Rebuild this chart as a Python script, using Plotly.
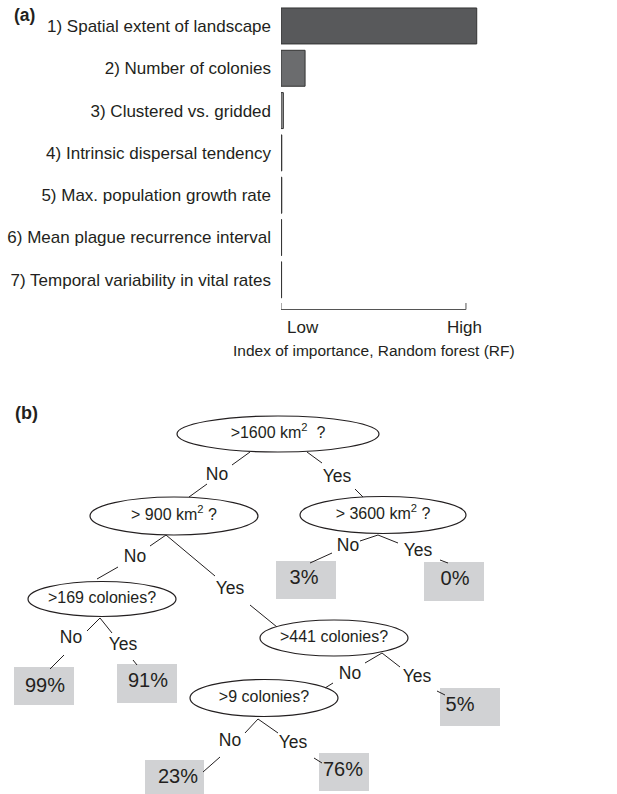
import plotly.graph_objects as go

# ---------------- data: panel (a) ----------------
factors = ["1) Spatial extent of landscape", "2) Number of colonies",
           "3) Clustered vs. gridded", "4) Intrinsic dispersal tendency",
           "5) Max. population growth rate", "6) Mean plague recurrence interval",
           "7) Temporal variability in vital rates"]
importance = [1.0, 0.123, 0.012, 0.004, 0.004, 0.003, 0.003]
bar_fill = ["#58595b", "#6b6c6e", "#9a9a9a", "#333333", "#333333", "#333333", "#333333"]
axis_labels = ["Low", "High"]
axis_title = "Index of importance, Random forest (RF)"

# ---------------- data: panel (b) ----------------
node_text = [">1600 km<sup>2</sup>  ?", "> 900 km<sup>2</sup> ?", "> 3600 km<sup>2</sup> ?",
             ">169 colonies?", ">441 colonies?", ">9 colonies?"]
leaf_values = [3, 0, 99, 91, 5, 23, 76]
edge_labels = ["No", "Yes", "No", "Yes", "No", "Yes", "No", "Yes", "No", "Yes", "No", "Yes"]

# layout positions (pixel space of the figure)
node_cx = [278, 174, 383, 102, 334, 264]
node_cy = [434, 516, 515, 599, 638, 698]
node_rx = [101, 84, 83, 74, 74, 74]
node_ry = [18, 19, 18.5, 17.5, 18, 18.5]

leaf_box = [(276, 336, 561, 599), (424, 484, 562, 601), (14, 74, 667, 705),
            (117, 177, 664, 703), (440, 500, 688, 726), (145, 204, 760, 795),
            (319, 369, 753, 791)]
leaf_tx = [304, 455, 45, 148, 460, 178, 343]
leaf_ty = [579, 580, 687, 682, 706, 778, 771]

# edges: start, end of first segment, label pos, start of second seg, end
edges = [
    ((250, 452), (232, 465), (217, 476), (207, 484), (189, 497)),
    ((307, 452), (322, 463), (337, 478), (355, 489), (363, 497)),
    ((166, 535), (150, 546), (135, 558), (118, 567), (97, 579)),
    ((166, 535), (215, 576), (230, 590), (250, 605), (277, 627)),
    ((378, 535), (360, 541), (348, 547), (332, 553), (310, 563)),
    ((378, 535), (398, 543), (418, 552), (440, 560), (448, 563)),
    ((100, 618), (87, 631), (71, 639), (64, 655), (50, 669)),
    ((100, 618), (112, 633), (123, 646), (133, 660), (137, 665)),
    ((382, 653), (365, 663), (350, 675), (333, 683), (325, 688)),
    ((382, 653), (400, 667), (417, 678), (437, 691), (445, 695)),
    ((258, 719), (245, 733), (230, 742), (220, 757), (203, 772)),
    ((258, 719), (278, 733), (293, 744), (314, 758), (322, 763)),
]

W, H = 617, 794
FONT = "Liberation Sans, Arial, sans-serif"
INK = "#231f20"

fig = go.Figure()

# ---- panel (a) bars ----
fig.add_trace(go.Bar(
    x=importance, y=factors, orientation="h",
    marker=dict(color=bar_fill, line=dict(color="#333333", width=1)),
    xaxis="x", yaxis="y", showlegend=False, hoverinfo="skip",
))

# ---- panel (b) lines ----
lx, ly = [], []
for s, a, l, b, e in edges:
    lx += [s[0], a[0], None, b[0], e[0], None]
    ly += [s[1], a[1], None, b[1], e[1], None]
fig.add_trace(go.Scatter(x=lx, y=ly, mode="lines", line=dict(color=INK, width=1),
                         xaxis="x2", yaxis="y2", showlegend=False, hoverinfo="skip"))

# edge labels
fig.add_trace(go.Scatter(
    x=[e[2][0] for e in edges], y=[e[2][1] for e in edges], mode="text",
    text=edge_labels, textfont=dict(family=FONT, size=17.5, color=INK),
    xaxis="x2", yaxis="y2", showlegend=False, hoverinfo="skip"))

# ellipses
for cx, cy, rx, ry in zip(node_cx, node_cy, node_rx, node_ry):
    fig.add_shape(type="circle", xref="x2", yref="y2",
                  x0=cx - rx, x1=cx + rx, y0=cy - ry, y1=cy + ry,
                  line=dict(color=INK, width=1.2), fillcolor="white", layer="below")

# node text
fig.add_trace(go.Scatter(
    x=node_cx, y=node_cy, mode="text", text=node_text,
    textfont=dict(family=FONT, size=16, color=INK),
    xaxis="x2", yaxis="y2", showlegend=False, hoverinfo="skip"))

# leaf boxes
for x0, x1, y0, y1 in leaf_box:
    fig.add_shape(type="rect", xref="x2", yref="y2", x0=x0, x1=x1, y0=y0, y1=y1,
                  line=dict(width=0), fillcolor="#d1d2d4", layer="below")

fig.add_trace(go.Scatter(
    x=leaf_tx, y=leaf_ty, mode="text", text=[f"{v}%" for v in leaf_values],
    textfont=dict(family=FONT, size=20, color=INK),
    xaxis="x2", yaxis="y2", showlegend=False, hoverinfo="skip"))

# ---- panel (a) bracket axis ----
bx_end = 0.945
fig.add_shape(type="path", xref="x", yref="y2",
              path=f"M 0,303 L 0,309.5 L {bx_end},309.5 L {bx_end},303",
              line=dict(color="#555555", width=1))

annos = [
    dict(x=302.5, y=327, text=axis_labels[0], size=17),
    dict(x=464.5, y=327, text=axis_labels[1], size=17),
    dict(x=374, y=350, text=axis_title, size=15.5),
]
for a in annos:
    fig.add_annotation(x=a["x"], y=a["y"], xref="x2", yref="y2", text=a["text"],
                       showarrow=False, font=dict(family=FONT, size=a["size"], color=INK))

fig.add_annotation(x=24, y=15, xref="x2", yref="y2", text="<b>(a)</b>", showarrow=False,
                   font=dict(family=FONT, size=17.5, color=INK))
fig.add_annotation(x=26, y=413, xref="x2", yref="y2", text="<b>(b)</b>", showarrow=False,
                   font=dict(family=FONT, size=18, color=INK))

fig.update_layout(
    width=W, height=H, margin=dict(l=0, r=0, t=0, b=0),
    paper_bgcolor="white", plot_bgcolor="rgba(0,0,0,0)",
    bargap=0.15,
    xaxis=dict(domain=[281 / W, 496.3 / W], range=[0, 1.1], visible=False, fixedrange=True),
    yaxis=dict(domain=[1 - 301 / H, 1 - 4.8 / H], type="category", autorange="reversed",
               showline=False, showgrid=False, zeroline=False, ticks="",
               ticklabelstandoff=9,
               tickfont=dict(family=FONT, size=17, color=INK), fixedrange=True),
    xaxis2=dict(domain=[0, 1], range=[0, W], visible=False, fixedrange=True, anchor="y2"),
    yaxis2=dict(domain=[0, 1], range=[H, 0], visible=False, fixedrange=True, anchor="x2"),
)

fig.write_html("out.html", config={"displayModeBar": False},
               post_script="document.body.style.margin='0';document.body.style.padding='0';")
